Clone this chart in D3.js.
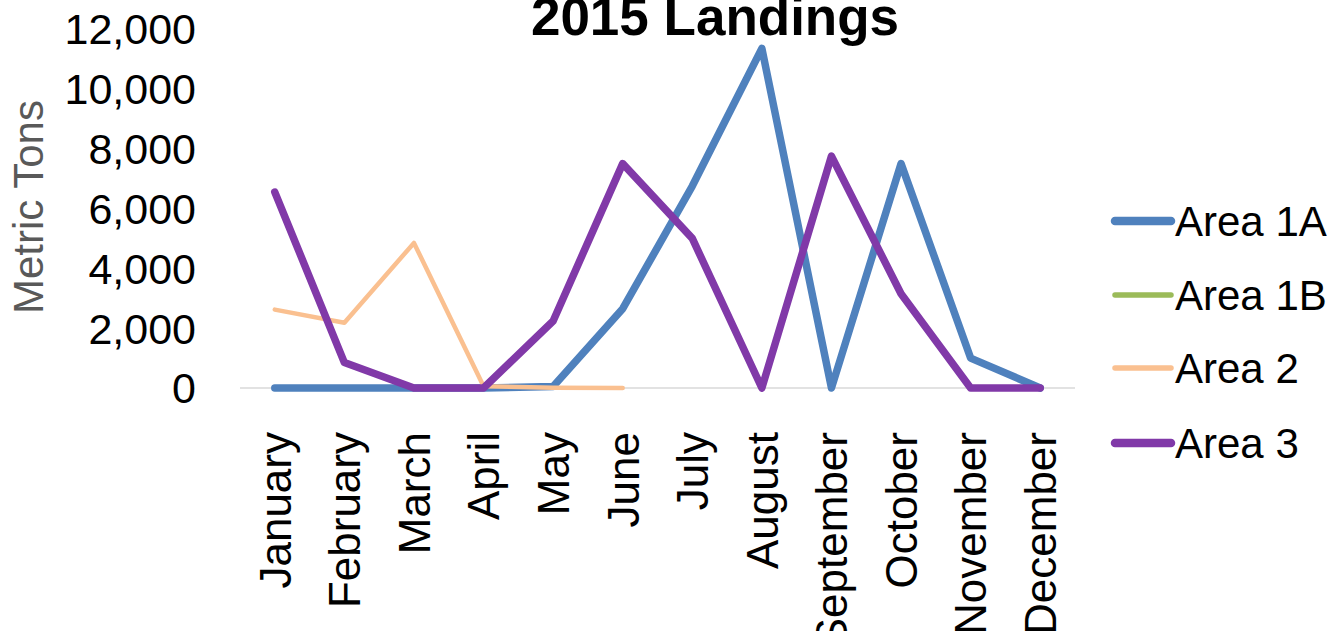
<!DOCTYPE html>
<html>
<head>
<meta charset="utf-8">
<script src="https://cdn.jsdelivr.net/npm/d3@7"></script>
<style>
  html, body { margin: 0; padding: 0; background: #fff; }
  svg { display: block; font-family: "Liberation Sans", Arial, sans-serif; }
</style>
</head>
<body>
<svg id="chart" width="1334" height="631"></svg>
<script>
const months = ["January","February","March","April","May","June","July","August","September","October","November","December"];
const area1A = [0, 0, 0, 0, 50, 2650, 6750, 11350, 0, 7500, 1000, 0];
const area1B = [null, null, null, null, null, null, null, null, null, null, null, null];
const area2  = [2620, 2180, 4850, 60, 10, 0, null, null, null, null, null, null];
const area3  = [6550, 850, 0, 0, 2240, 7500, 5000, 0, 7750, 3150, 0, 0];
const yTicks = [0, 2000, 4000, 6000, 8000, 10000, 12000];
const seriesNames = ["Area 1A", "Area 1B", "Area 2", "Area 3"];
const seriesColors = ["#4f81bd", "#9bbb59", "#fac090", "#8139a8"];
const seriesWidths = [7.5, 4.5, 4.5, 7.5];

const series = seriesNames.map((name, i) => ({
  name, color: seriesColors[i], width: seriesWidths[i],
  values: [area1A, area1B, area2, area3][i]
}));

const svg = d3.select("#chart");
const x = d3.scaleBand().domain(months).range([240, 1075]);
const y = d3.scaleLinear().domain([0, 12000]).range([388, 29]);

// zero gridline
svg.append("line")
  .attr("x1", 240).attr("x2", 1075)
  .attr("y1", y(0)).attr("y2", y(0))
  .attr("stroke", "#d9d9d9").attr("stroke-width", 1.5);

// y axis labels
const fmt = d3.format(",");
svg.append("g").selectAll("text").data(yTicks).join("text")
  .attr("x", 196).attr("y", d => y(d))
  .attr("dy", "0.36em")
  .attr("text-anchor", "end")
  .attr("font-size", 43).attr("fill", "#000")
  .text(d => fmt(d));

// x axis labels
svg.append("g").selectAll("text").data(months).join("text")
  .attr("transform", d => `translate(${x(d) + x.bandwidth() / 2},432) rotate(-90)`)
  .attr("dy", "0.36em")
  .attr("text-anchor", "end")
  .attr("font-size", 44).attr("fill", "#000")
  .text(d => d);

// y axis title
svg.append("text")
  .attr("transform", `translate(43,207) rotate(-90)`)
  .attr("text-anchor", "middle")
  .attr("font-size", 42).attr("fill", "#595959")
  .text("Metric Tons");

// title
svg.append("text")
  .attr("x", 715).attr("y", 35)
  .attr("text-anchor", "middle")
  .attr("font-size", 53).attr("font-weight", "bold").attr("fill", "#000")
  .text("2015 Landings");

// lines
const line = d3.line()
  .defined(d => d.v !== null)
  .x(d => x(d.m) + x.bandwidth() / 2)
  .y(d => y(d.v));

svg.append("g").selectAll("path").data(series).join("path")
  .attr("d", s => line(s.values.map((v, i) => ({ m: months[i], v }))))
  .attr("fill", "none")
  .attr("stroke", s => s.color)
  .attr("stroke-width", s => s.width)
  .attr("stroke-linejoin", "round")
  .attr("stroke-linecap", "round");

// legend
const legendY = [221, 295, 368, 443];
const lg = svg.append("g").selectAll("g").data(series).join("g")
  .attr("transform", (s, i) => `translate(1113,${legendY[i]})`);
lg.append("line")
  .attr("x1", 2).attr("x2", 58).attr("y1", 0).attr("y2", 0)
  .attr("stroke", s => s.color)
  .attr("stroke-width", s => s.width + 1)
  .attr("stroke-linecap", "round");
lg.append("text")
  .attr("x", 62).attr("dy", "0.36em")
  .attr("font-size", 42).attr("fill", "#000")
  .text(s => s.name);
</script>
</body>
</html>
